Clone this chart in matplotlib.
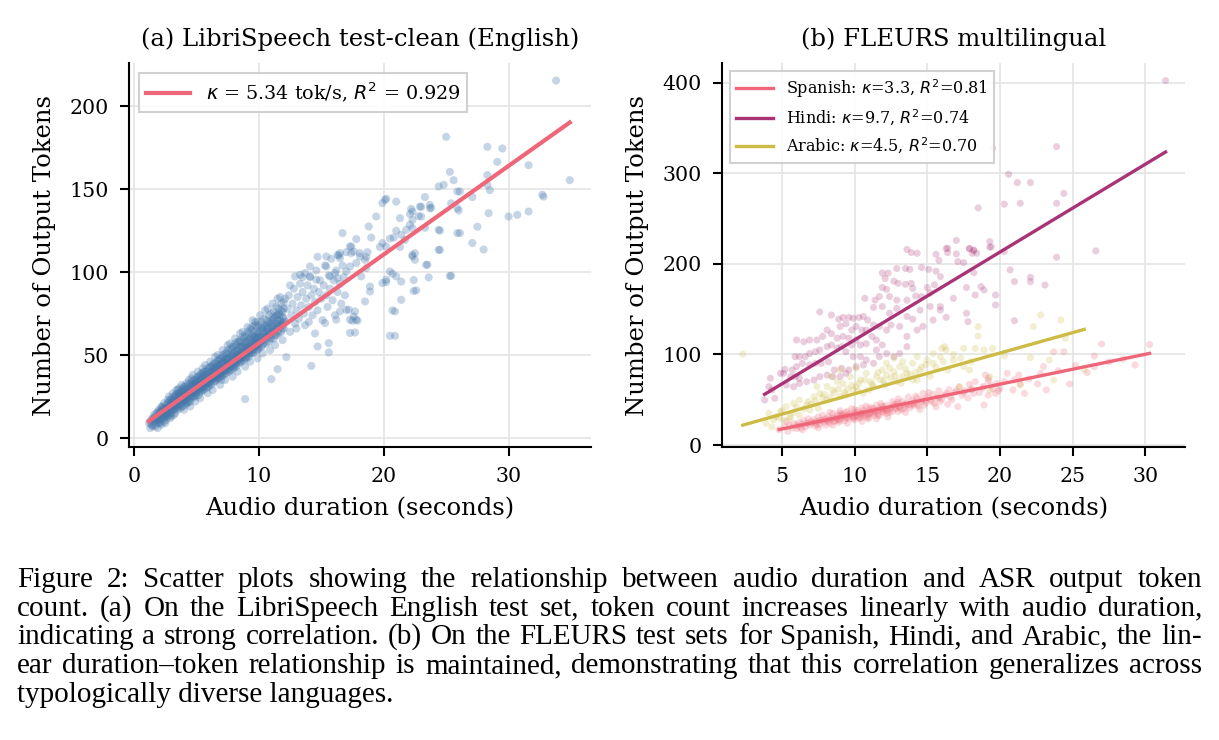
import numpy as np
import matplotlib.pyplot as plt

# ---- panel (a): LibriSpeech test-clean, (duration [s], output tokens)
libri_core = [
    (1.2, 9), (1.3, 6), (1.4, 11), (1.5, 8), (1.5, 12), (1.6, 10), (1.7, 7), (1.7, 13), (1.8, 9), (1.8, 15),
    (1.9, 11), (1.9, 6), (2.0, 13), (2.0, 9), (2.0, 17), (2.1, 11), (2.1, 16), (2.2, 8), (2.2, 14), (2.2, 19),
    (2.3, 12), (2.3, 17), (2.4, 10), (2.4, 15), (2.4, 21), (2.5, 13), (2.5, 18), (2.5, 9), (2.6, 15), (2.6, 20),
    (2.6, 11), (2.7, 17), (2.7, 23), (2.7, 13), (2.8, 19), (2.8, 15), (2.8, 25), (2.9, 17), (2.9, 21), (2.9, 12),
    (3.0, 19), (3.0, 24), (3.0, 15), (3.1, 21), (3.1, 17), (3.1, 27), (3.2, 19), (3.2, 23), (3.2, 14), (3.3, 22),
    (3.3, 26), (3.3, 18), (3.4, 20), (3.4, 29), (3.4, 24), (3.5, 17), (3.5, 22), (3.5, 27), (3.6, 20), (3.6, 25),
    (3.6, 30), (3.7, 23), (3.7, 18), (3.7, 27), (3.8, 21), (3.8, 26), (3.8, 32), (3.9, 24), (3.9, 19), (3.9, 28),
    (4.0, 22), (4.0, 26), (4.0, 31), (4.0, 17), (4.1, 24), (4.1, 29), (4.1, 20), (4.2, 27), (4.2, 33), (4.2, 23),
    (4.3, 25), (4.3, 30), (4.3, 21), (4.4, 28), (4.4, 35), (4.4, 24), (4.5, 26), (4.5, 31), (4.5, 19), (4.6, 29),
    (4.6, 34), (4.6, 24), (4.7, 27), (4.7, 32), (4.7, 38), (4.8, 30), (4.8, 25), (4.8, 35), (4.9, 28), (4.9, 33),
    (4.9, 22), (5.0, 31), (5.0, 36), (5.0, 27), (5.1, 29), (5.1, 34), (5.1, 40), (5.2, 32), (5.2, 26), (5.2, 37),
    (5.3, 30), (5.3, 35), (5.3, 24), (5.4, 33), (5.4, 39), (5.4, 28), (5.5, 31), (5.5, 36), (5.5, 42), (5.6, 34),
    (5.6, 29), (5.6, 38), (5.7, 32), (5.7, 37), (5.7, 44), (5.8, 35), (5.8, 30), (5.8, 40), (5.9, 33), (5.9, 38),
    (5.9, 27), (6.0, 36), (6.0, 42), (6.0, 31), (6.1, 35), (6.1, 40), (6.1, 46), (6.2, 38), (6.2, 32), (6.2, 43),
    (6.3, 36), (6.3, 41), (6.3, 29), (6.4, 39), (6.4, 45), (6.4, 34), (6.5, 37), (6.5, 42), (6.5, 49), (6.6, 40),
    (6.6, 35), (6.6, 45), (6.7, 38), (6.7, 43), (6.7, 50), (6.8, 41), (6.8, 36), (6.8, 47), (6.9, 39), (6.9, 44),
    (6.9, 32), (7.0, 42), (7.0, 48), (7.0, 37), (7.1, 40), (7.1, 46), (7.1, 53), (7.2, 43), (7.2, 38), (7.2, 49),
    (7.3, 41), (7.3, 47), (7.3, 35), (7.4, 45), (7.4, 51), (7.4, 39), (7.5, 43), (7.5, 48), (7.5, 56), (7.6, 45),
    (7.6, 40), (7.6, 51), (7.7, 43), (7.7, 49), (7.7, 57), (7.8, 46), (7.8, 41), (7.8, 53), (7.9, 44), (7.9, 50),
    (7.9, 37), (8.0, 47), (8.0, 55), (8.0, 42), (8.1, 46), (8.1, 52), (8.1, 60), (8.2, 49), (8.2, 43), (8.2, 56),
    (8.3, 47), (8.3, 53), (8.3, 40), (8.4, 51), (8.4, 58), (8.4, 45), (8.5, 49), (8.5, 55), (8.5, 63), (8.6, 51),
    (8.6, 46), (8.6, 58), (8.7, 49), (8.7, 55), (8.7, 64), (8.8, 52), (8.8, 47), (8.8, 60), (8.9, 50), (8.9, 57),
    (8.9, 43), (9.0, 53), (9.0, 61), (9.0, 48), (9.1, 52), (9.1, 58), (9.1, 67), (9.2, 55), (9.2, 49), (9.2, 63),
    (9.3, 53), (9.3, 60), (9.3, 46), (9.4, 57), (9.4, 65), (9.4, 51), (9.5, 55), (9.5, 62), (9.5, 71), (9.6, 57),
    (9.6, 52), (9.6, 64), (9.7, 55), (9.7, 61), (9.7, 70), (9.8, 58), (9.8, 53), (9.8, 67), (9.9, 56), (9.9, 63),
    (9.9, 48), (10.0, 60), (10.0, 68), (10.0, 54), (10.1, 58), (10.1, 65), (10.1, 74), (10.2, 61), (10.2, 55),
    (10.2, 70), (10.3, 59), (10.3, 66), (10.3, 51), (10.4, 63), (10.4, 72), (10.4, 57), (10.5, 61), (10.5, 68),
    (10.5, 77), (10.6, 63), (10.6, 57), (10.6, 71), (10.7, 61), (10.7, 67), (10.7, 78), (10.8, 64), (10.8, 58),
    (10.8, 74), (10.9, 62), (10.9, 69), (10.9, 53), (11.0, 66), (11.0, 75), (11.0, 60), (11.1, 64), (11.1, 71),
    (11.1, 81), (11.2, 67), (11.2, 60), (11.2, 76), (11.3, 65), (11.3, 73), (11.3, 56), (11.4, 69), (11.4, 79),
    (11.4, 62), (11.5, 67), (11.5, 74), (11.5, 84), (11.6, 69), (11.6, 63), (11.6, 78), (11.7, 67), (11.7, 74),
    (11.7, 85), (11.8, 70), (11.8, 64), (11.8, 81), (11.9, 68), (11.9, 76), (11.9, 59), (12.0, 72), (12.0, 82),
    (12.0, 66),
]
libri_core_extra = [
    (1.4, 8), (1.6, 14), (1.8, 11), (2.0, 15), (2.1, 9), (2.3, 14), (2.4, 12), (2.6, 18), (2.7, 15), (2.8, 22),
    (2.9, 14), (3.0, 21), (3.1, 23), (3.2, 17), (3.3, 20), (3.4, 26), (3.5, 19), (3.6, 27), (3.7, 21), (3.8, 29),
    (3.9, 22), (4.0, 28), (4.1, 22), (4.2, 30), (4.3, 27), (4.4, 22), (4.5, 33), (4.6, 31), (4.7, 25), (4.8, 33),
    (4.9, 26), (5.0, 33), (5.1, 31), (5.2, 35), (5.3, 28), (5.4, 36), (5.5, 29), (5.6, 40), (5.7, 34), (5.8, 38),
    (5.9, 31), (6.0, 39), (6.1, 33), (6.2, 40), (6.3, 38), (6.4, 42), (6.5, 34), (6.6, 43), (6.7, 36), (6.8, 44),
    (6.9, 37), (7.0, 45), (7.1, 43), (7.2, 46), (7.3, 39), (7.4, 48), (7.5, 45), (7.6, 48), (7.7, 41), (7.8, 50),
    (7.9, 47), (8.0, 51), (8.1, 44), (8.2, 53), (8.3, 50), (8.4, 54), (8.5, 47), (8.6, 55), (8.7, 52), (8.8, 56),
    (8.9, 48), (9.0, 58), (9.1, 54), (9.2, 59), (9.3, 51), (9.4, 60), (9.5, 53), (9.6, 61), (9.7, 58), (9.8, 62),
    (9.9, 53), (10.0, 64), (10.1, 61), (10.2, 66), (10.3, 56), (10.4, 67), (10.5, 59), (10.6, 68), (10.7, 64),
    (10.8, 70), (10.9, 60), (11.0, 71), (11.1, 67), (11.2, 72), (11.3, 62), (11.4, 74), (11.5, 64), (11.6, 75),
    (11.7, 71), (11.8, 77), (11.9, 66), (12.0, 78),
    (1.3, 10), (1.5, 7), (1.7, 12), (1.9, 16), (2.0, 10), (2.2, 13), (2.3, 19), (2.5, 16), (2.6, 13), (2.8, 17),
    (2.9, 23), (3.0, 13), (3.1, 19), (3.2, 25), (3.3, 15), (3.4, 18), (3.5, 29), (3.6, 22), (3.7, 25), (3.8, 19),
    (3.9, 30), (4.0, 25), (4.1, 31), (4.2, 21), (4.3, 32), (4.4, 26), (4.5, 22), (4.6, 36), (4.7, 29), (4.8, 27),
    (4.9, 35), (5.0, 25), (5.1, 37), (5.2, 29), (5.3, 38), (5.4, 30), (5.5, 39), (5.6, 31), (5.7, 40), (5.8, 33),
    (5.9, 42), (6.0, 34), (6.1, 43), (6.2, 35), (6.3, 44), (6.4, 36), (6.5, 45), (6.6, 37), (6.7, 47), (6.8, 38),
    (6.9, 48), (7.0, 35), (7.1, 50), (7.2, 40), (7.3, 51), (7.4, 43), (7.5, 53), (7.6, 42), (7.7, 54), (7.8, 43),
    (7.9, 55), (8.0, 45), (8.1, 57), (8.2, 45), (8.3, 58), (8.4, 49), (8.5, 59), (8.6, 48), (8.7, 61), (8.8, 50),
    (8.9, 62), (9.0, 55), (9.1, 64), (9.2, 51), (9.3, 66), (9.4, 55), (9.5, 67), (9.6, 54), (9.7, 68), (9.8, 60),
    (9.9, 70), (10.0, 57),
]
libri_near_fit = [
    (1.6, 12), (1.9, 13), (2.1, 15), (2.3, 16), (2.4, 18), (2.6, 17), (2.8, 18), (2.9, 20), (3.1, 20), (3.2, 21),
    (3.4, 22), (3.5, 24), (3.6, 23), (3.8, 24), (3.9, 25), (4.1, 26), (4.2, 25), (4.4, 27), (4.5, 28), (4.6, 27),
    (4.8, 29), (4.9, 31), (5.0, 30), (5.2, 31), (5.3, 33), (5.4, 32), (5.6, 33), (5.7, 35), (5.8, 34), (6.0, 35),
    (6.1, 37), (6.2, 36), (6.4, 37), (6.5, 39), (6.6, 38), (6.8, 39), (6.9, 41), (7.0, 40), (7.2, 41), (7.3, 43),
    (7.4, 42), (7.6, 44), (7.7, 45), (7.8, 44), (8.0, 46), (8.1, 48), (8.2, 47), (8.4, 48), (8.5, 50), (8.6, 49),
    (8.8, 51), (8.9, 52), (9.0, 51), (9.2, 53), (9.3, 55), (9.4, 54), (9.6, 56), (9.7, 57), (9.8, 56), (10.0, 58),
    (10.2, 59), (10.4, 61), (10.6, 62), (10.8, 63), (11.0, 64), (11.2, 65), (11.4, 66), (11.6, 68), (11.8, 69),
    (12.0, 70), (2.0, 11), (2.5, 14), (3.0, 17), (3.5, 20), (4.0, 23), (4.5, 25), (5.0, 28), (5.5, 31), (6.0, 33),
    (6.5, 36), (7.0, 38), (7.5, 41), (8.0, 43), (8.5, 46), (9.0, 49), (9.5, 51), (10.0, 55), (2.2, 18), (2.7, 21),
    (3.3, 25), (3.7, 27), (4.3, 29), (4.7, 32), (5.1, 34), (5.5, 36), (6.3, 40), (6.7, 42), (7.1, 45), (7.5, 47),
    (7.9, 49), (8.3, 51), (8.7, 54), (9.1, 56), (9.5, 59), (9.9, 61), (10.3, 64), (10.7, 66), (11.1, 69),
    (11.5, 71), (11.9, 73),
]
libri_mid = [
    (12.2, 70), (12.3, 78), (12.4, 86), (12.5, 64), (12.6, 74), (12.7, 81), (12.8, 90), (12.9, 69), (13.0, 77),
    (13.1, 85), (13.2, 72), (13.3, 93), (13.4, 80), (13.5, 88), (13.6, 75), (13.7, 68), (13.8, 84), (13.9, 92),
    (14.0, 79), (14.1, 97), (14.2, 86), (14.3, 74), (14.4, 90), (14.5, 82), (14.6, 101), (14.7, 77), (14.8, 88),
    (14.9, 95), (15.0, 84), (15.1, 71), (15.2, 92), (15.3, 104), (15.4, 86), (15.5, 79), (15.6, 98), (15.7, 90),
    (15.8, 108), (15.9, 83), (16.0, 95), (16.1, 74), (16.2, 101), (16.3, 88), (16.4, 110), (16.5, 93), (16.6, 81),
    (16.7, 104), (16.8, 97), (16.9, 86), (17.0, 112), (12.1, 84), (12.5, 92), (13.0, 66), (13.5, 97), (14.0, 70),
    (14.5, 63),
]
libri_tail = [
    (25.0, 181.5), (33.8, 215.4), (28.3, 175.5), (29.5, 174.5), (29.1, 166.4), (31.6, 164.4), (25.3, 160.4),
    (25.6, 155.4), (28.3, 158.4), (34.9, 155.4), (24.4, 151.6), (24.8, 152.6), (26.1, 148.6), (28.3, 152.6),
    (28.5, 149.4), (27.1, 145.2), (32.7, 146.6), (32.8, 145.5), (23.3, 145.2), (23.7, 140.5), (23.8, 138.7),
    (25.4, 141.4), (25.9, 138.5), (26.0, 137.1), (23.0, 139.3), (22.2, 138.1), (22.3, 136.5), (22.1, 135.0),
    (22.8, 133.7), (28.4, 135.5), (30.0, 133.5), (30.7, 134.5), (31.6, 136.5), (21.0, 142.5), (20.2, 144.2),
    (21.3, 132.5), (22.1, 128.5), (22.3, 126.5), (23.3, 126.7), (24.4, 125.5), (24.5, 125.0), (26.1, 123.5),
    (27.5, 127.3), (24.4, 113.4), (27.1, 117.5), (28.0, 113.6), (21.0, 124.9), (20.8, 120.8), (21.7, 119.4),
    (21.3, 115.1), (19.9, 117.5), (20.2, 115.4), (20.5, 120.2), (22.5, 111.4), (22.3, 109.4), (23.5, 104.4),
    (23.6, 96.8), (25.3, 97.6), (22.4, 95.2), (22.4, 88.6), (21.4, 94.3), (21.4, 83.3), (20.2, 94.0),
    (19.9, 141.6), (20.1, 143.5), (19.4, 133.5), (18.8, 127.5), (16.7, 123.5), (17.8, 119.9), (19.0, 120.8),
    (17.4, 115.4), (17.6, 112.4), (14.7, 109.2), (15.4, 109.4), (16.3, 110.4), (16.5, 108.4), (14.1, 103.4),
    (15.4, 103.4), (18.1, 111.4), (18.6, 109.0), (18.7, 112.0), (19.7, 115.1), (21.4, 122.5), (21.8, 125.5),
    (22.3, 131.5), (22.9, 139.5), (23.0, 133.5), (23.7, 138.5), (22.3, 110.4), (22.5, 107.4), (23.4, 104.4),
    (20.5, 100.4), (20.7, 99.0), (20.2, 95.4), (21.0, 97.4), (19.9, 93.4), (20.7, 76.9), (20.5, 61.6),
    (24.5, 113.4), (25.4, 97.8), (25.9, 148.6), (25.9, 123.5), (18.9, 88.3), (18.9, 91.3), (18.2, 97.4),
    (18.5, 82.3), (17.7, 76.3), (17.0, 77.3), (17.3, 71.3), (17.3, 63.3), (17.8, 71.3), (16.2, 71.3),
    (16.5, 76.3), (15.3, 69.3), (13.3, 98.4), (13.7, 99.4), (12.9, 97.4), (14.1, 97.4), (14.6, 95.4),
    (15.7, 97.4), (16.1, 99.4), (16.3, 96.4), (17.0, 100.4), (17.3, 103.4), (17.8, 105.4), (18.6, 102.4),
    (16.5, 111.4), (17.3, 115.4), (17.4, 111.4), (18.1, 109.4), (18.5, 107.4), (15.6, 51.6), (14.7, 55.2),
    (14.2, 43.5), (11.0, 35.5), (8.9, 23.5), (11.5, 41.5), (12.2, 48.8), (20.9, 61.6), (20.9, 76.3),
    (17.7, 63.6), (17.5, 70.7), (17.9, 70.7), (17.2, 77.3), (17.6, 73.3), (15.6, 57.2), (22.6, 89.0),
]
libri_kappa, libri_icpt, libri_r2 = 5.34, 3.8, 0.929

# ---- panel (b): FLEURS, one list per language
fleurs_langs = ['Spanish', 'Hindi', 'Arabic']
spanish_pts = [
    (4.8, 17), (5.2, 20), (5.4, 15), (5.5, 22), (5.7, 19), (5.8, 24), (6.0, 18), (6.0, 22), (5.3, 26),
    (6.1, 21), (6.2, 25), (6.3, 19), (6.4, 23), (6.5, 27), (6.6, 20), (6.7, 24), (6.8, 29), (6.9, 22), (7.0, 26),
    (6.4, 17), (7.1, 24), (7.2, 28), (7.3, 21), (7.4, 26), (7.5, 31), (7.6, 23), (7.7, 27), (7.8, 33), (7.9, 25),
    (8.0, 29), (7.5, 19), (8.0, 22), (8.1, 27), (8.2, 31), (8.3, 24), (8.4, 29), (8.5, 35), (8.6, 26), (8.7, 30),
    (8.8, 33), (8.9, 28), (9.0, 32), (8.5, 22), (9.0, 38), (8.3, 36), (9.1, 30), (9.2, 34), (9.3, 27), (9.4, 32),
    (9.5, 37), (9.6, 29), (9.7, 34), (9.8, 40), (9.9, 31), (10.0, 35), (9.5, 24), (10.0, 28), (10.1, 33),
    (10.2, 38), (10.3, 30), (10.4, 35), (10.5, 41), (10.6, 32), (10.7, 36), (10.8, 43), (10.9, 34), (11.0, 38),
    (10.5, 26), (11.0, 30), (11.1, 36), (11.2, 41), (11.3, 33), (11.4, 38), (11.5, 44), (11.6, 35), (11.7, 40),
    (11.8, 46), (11.9, 37), (12.0, 42), (11.5, 29), (12.1, 39), (12.2, 44), (12.4, 36), (12.5, 42), (12.6, 48),
    (12.8, 40), (12.9, 45), (13.0, 51), (12.3, 31), (13.0, 37), (13.1, 43), (13.3, 48), (13.4, 40), (13.6, 46),
    (13.7, 53), (13.9, 44), (14.0, 49), (13.5, 36), (14.1, 47), (14.3, 52), (14.4, 43), (14.6, 50), (14.7, 57),
    (14.9, 47), (15.0, 53), (14.5, 39), (15.2, 50), (15.4, 56), (15.5, 46), (15.7, 53), (15.8, 60), (16.0, 51),
    (15.6, 42), (16.2, 55), (16.5, 61), (16.7, 50), (16.9, 58), (17.2, 64), (17.4, 55), (17.6, 60), (17.9, 67),
    (17.8, 52), (16.4, 45), (18.1, 62), (18.3, 70), (18.6, 58), (18.9, 65), (19.2, 71), (19.5, 62), (19.8, 68),
    (19.2, 55), (20.5, 79.2), (21.3, 77.3), (21.7, 57), (20.9, 60.8), (22.6, 67.4), (23.2, 60.8), (23.0, 86.6),
    (23.7, 103), (24.4, 103), (24.8, 67.4), (26.5, 98.3), (27.0, 111.6), (29.3, 88.4), (30.3, 111),
    (26.5, 86.6), (19.0, 77.3), (19.2, 73.7), (18.0, 60.8), (18.9, 44.2), (17.1, 42.4), (19.7, 57),
    (20.0, 62.6), (21.4, 67.4), (8.2, 26), (8.6, 30), (9.0, 27), (9.3, 31), (9.6, 33), (9.9, 29), (10.2, 32),
    (10.5, 35), (10.8, 31), (11.1, 34), (11.4, 37), (11.7, 33), (12.0, 36), (12.3, 39), (12.6, 37), (12.9, 41),
    (13.2, 39), (13.5, 43), (13.8, 41), (14.1, 44), (10.0, 39), (10.6, 38), (11.3, 40), (11.9, 43), (12.7, 45),
    (9.4, 36), (8.8, 29), (10.4, 30), (11.6, 32), (12.2, 35), (6.8, 24), (7.2, 25), (7.6, 27), (7.9, 28),
    (8.3, 28), (8.7, 27), (9.1, 33), (9.4, 30), (9.7, 31), (10.1, 36), (10.4, 33), (10.7, 34), (11.0, 35),
    (11.3, 36), (11.6, 38), (11.9, 40), (12.2, 38), (12.5, 40), (12.8, 43), (13.1, 41), (13.4, 45), (13.7, 44),
    (14.0, 46), (14.3, 45), (14.6, 48), (14.9, 50), (15.3, 48), (15.8, 52), (9.0, 35), (10.0, 31), (11.0, 41),
    (12.0, 39), (13.0, 47), (7.4, 23), (8.9, 25), (10.9, 29), (14.2, 54), (14.8, 44), (15.1, 58), (15.9, 48),
    (16.3, 57), (16.6, 53), (17.0, 60), (17.5, 58), (18.2, 57), (18.8, 63), (19.4, 66), (19.9, 60), (20.3, 70),
    (21.0, 72), (22.0, 73), (22.8, 79), (24.0, 82), (25.2, 88), (26.0, 80), (27.5, 92), (28.5, 95),
]
hindi_pts = [
    (13.6, 216), (13.9, 212.5), (14.3, 211.8), (13.5, 195), (13.8, 194), (12.9, 195), (12.3, 190), (11.9, 190),
    (12.1, 184), (12.7, 181), (11.9, 174), (12.2, 172), (13.0, 178.6), (13.5, 177.5), (13.9, 178.6), (14.0, 173),
    (14.6, 196), (15.1, 194), (15.6, 192), (15.6, 210.7), (15.8, 204), (16.4, 212.5), (15.9, 186), (15.5, 177),
    (15.0, 174), (15.2, 168), (14.6, 164), (14.2, 164.6), (13.6, 160), (12.9, 160), (12.4, 164), (11.7, 164),
    (11.4, 160), (10.7, 162), (11.3, 152), (11.9, 153), (12.4, 145.5), (12.9, 151), (13.6, 142), (14.0, 139),
    (14.5, 149), (15.2, 153), (15.9, 149), (15.4, 138), (14.7, 131), (14.3, 127), (13.6, 120), (13.1, 131),
    (12.5, 132.6), (12.2, 127), (11.7, 131), (11.3, 132.6), (10.9, 138), (10.6, 142), (10.3, 141), (9.9, 140),
    (9.6, 141), (9.2, 141), (8.9, 139), (9.0, 131), (9.4, 134), (9.8, 127), (10.1, 131), (10.5, 127), (10.8, 127),
    (11.2, 120), (11.5, 116), (11.9, 110.5), (11.5, 105), (10.8, 112), (10.4, 110.5), (10.1, 116), (9.8, 110.5),
    (9.6, 118), (9.2, 120), (8.8, 118), (8.4, 123), (8.1, 127), (7.6, 147), (8.4, 143.6), (7.8, 120), (7.4, 116),
    (6.9, 116), (6.5, 114), (6.0, 116), (6.2, 97.6), (5.9, 97.6), (6.6, 97.6), (6.9, 101), (7.3, 103), (7.6, 105),
    (8.1, 108.7), (8.4, 110.5), (8.8, 107), (9.1, 108.7), (9.4, 103), (9.9, 97.6), (10.4, 97.6), (10.8, 94),
    (10.6, 88.4), (10.1, 86.6), (11.3, 90.2), (11.7, 97.6), (12.2, 101), (12.7, 97.6), (13.1, 101), (13.6, 108.7),
    (9.6, 82.9), (9.1, 84.7), (8.6, 82.9), (8.2, 92), (7.7, 90.2), (7.3, 90.2), (6.9, 88.4), (6.4, 90.2),
    (6.0, 86.6), (5.7, 82.9), (5.2, 83.6), (5.1, 79.2), (5.6, 75.5), (5.9, 75.5), (6.2, 73.7), (6.7, 70),
    (7.2, 71.8), (7.6, 75.5), (8.1, 77.3), (8.5, 75.5), (9.0, 75.5), (9.4, 79.2), (6.2, 68), (5.8, 64.5),
    (5.3, 66.3), (4.9, 79.2), (4.2, 73.7), (4.1, 64.5), (3.8, 49.7), (4.5, 51.6), (4.3, 60.8),
    (17.0, 226), (16.3, 217), (17.0, 211), (17.1, 202.6), (17.9, 217), (18.2, 214.7), (18.4, 211.8),
    (18.1, 211.8), (19.3, 224.7), (19.3, 218.4), (20.3, 213.6), (17.5, 201.5), (18.2, 190.4), (20.7, 193.4),
    (21.0, 180.5), (22.1, 185.3), (22.1, 180.5), (23.1, 176.8), (23.9, 207.4), (26.6, 214.4), (18.7, 175),
    (18.9, 171.3), (16.8, 162), (18.3, 165.7), (17.7, 174), (19.7, 165.7), (19.7, 154.7), (15.9, 152.9),
    (17.7, 145.5), (17.8, 136.3), (16.3, 141), (21.0, 137.4), (31.4, 402.6), (23.9, 329.6), (19.5, 327.8),
    (20.6, 299), (21.2, 289.9), (22.1, 289.9), (24.4, 278), (23.9, 267), (21.4, 267), (20.3, 266), (18.5, 262),
    (16.4, 217.3), (19.4, 219), (17.9, 217), (18.2, 215.5),
]
arabic_pts = [
    (2.3, 100.5), (4.1, 35), (4.3, 20), (4.9, 36.8), (5.3, 42.4), (5.8, 46), (6.2, 49.7), (6.7, 44.2), (7.2, 53.4),
    (7.6, 57), (7.4, 64.5), (8.1, 64.5), (8.5, 60.8), (8.8, 70), (9.2, 68), (9.7, 75.5), (10.1, 64.5), (10.4, 71.8),
    (10.8, 79.2), (11.1, 70), (11.5, 75.5), (11.9, 82.9), (12.2, 77.3), (12.7, 81), (13.1, 86.6), (13.6, 79.2),
    (14.0, 90.2), (14.5, 82.9), (15.0, 94), (15.4, 90.2), (15.9, 97.6), (16.3, 105), (16.4, 82.9), (9.0, 53.4),
    (8.1, 49.7), (9.4, 55.2), (9.9, 60.8), (10.6, 57), (11.3, 64.5), (12.1, 66.3), (12.9, 70), (13.3, 75.5),
    (14.0, 71.8), (6.2, 33), (6.9, 38.7), (7.5, 40.5), (5.6, 31.3), (5.1, 27.6), (4.6, 31.3), (3.9, 24),
    (9.0, 82.9), (8.4, 75.5), (10.1, 84.7), (12.2, 90.2), (12.7, 95.8), (13.3, 92), (14.3, 97.6), (15.4, 101),
    (16.2, 108.7), (14.3, 71.8), (16.0, 106.8), (16.1, 92), (17.5, 106.8), (18.3, 106.8), (18.9, 105),
    (19.5, 106.8), (18.5, 130.8), (18.5, 120.4), (17.5, 86.6), (16.8, 94), (17.9, 82.9), (20.3, 98.3),
    (22.1, 96.5), (22.3, 130.8), (22.8, 143.6), (24.2, 138), (24.5, 117.9), (23.4, 94), (25.8, 83),
    (19.3, 60.8), (21.4, 66.3), (23.7, 71.8), (17.2, 64.5), (19.3, 75.5), (7.0, 45), (7.8, 52), (8.6, 58),
    (9.5, 62), (10.3, 68), (11.0, 61), (11.8, 72), (12.5, 74), (13.2, 68), (13.8, 78), (14.6, 86), (15.2, 76),
    (6.5, 40), (5.8, 36), (5.0, 38), (4.4, 28), (6.0, 42), (6.8, 48), (7.3, 49), (7.9, 56), (8.3, 53), (8.9, 62),
    (9.3, 58), (9.8, 66), (10.2, 60), (10.7, 72), (11.2, 67), (11.6, 80), (12.0, 71), (12.4, 85), (12.8, 76),
    (13.5, 84), (14.2, 80), (14.9, 89), (15.6, 86), (16.8, 100), (17.3, 96), (18.0, 92), (5.5, 30), (4.8, 30),
]
fleurs_kappa = [3.3, 9.7, 4.5]
fleurs_icpt = [1.2, 19.1, 11.6]
fleurs_r2 = [0.81, 0.74, 0.70]
fleurs_colors = ['#ee6677', '#aa3377', '#ccbb44']

caption = [
    "Figure 2:  Scatter plots showing the relationship between audio duration and ASR output token",
    "count. (a) On the LibriSpeech English test set, token count increases linearly with audio duration,",
    "indicating a strong correlation. (b) On the FLEURS test sets for Spanish, Hindi, and Arabic, the lin-",
    "ear duration\u2013token relationship is maintained, demonstrating that this correlation generalizes across",
    "typologically diverse languages.",
]

plt.rcParams['font.family'] = 'DejaVu Serif'
plt.rcParams['axes.linewidth'] = 1.5

fig = plt.figure(figsize=(12.19, 7.40), dpi=100)
W, H = 1219, 740
ax1 = fig.add_axes([129 / W, 1 - 447 / H, 462 / W, 384 / H])
ax2 = fig.add_axes([722 / W, 1 - 447 / H, 463 / W, 384 / H])


def style(ax):
    for s in ['top', 'right']:
        ax.spines[s].set_visible(False)
    ax.grid(True, color='#e4e4e4', linewidth=1.2)
    ax.set_axisbelow(True)
    ax.tick_params(labelsize=14.8, length=6.5, width=1.5, pad=8)
    ax.set_xlabel('Audio duration (seconds)', fontsize=17.5, labelpad=8)
    ax.set_ylabel('Number of Output Tokens', fontsize=17.5, labelpad=10)


# (a)
pts = np.array(libri_core + libri_core_extra + libri_near_fit + libri_mid + libri_tail)
ax1.scatter(pts[:, 0], pts[:, 1], s=34, color='#4477aa', alpha=0.3, edgecolors='none')
xs = np.array([pts[:, 0].min(), pts[:, 0].max()])
ax1.plot(xs, libri_icpt + libri_kappa * xs, color='#ee6677', lw=3,
         label=rf'$\kappa$ = {libri_kappa:.2f} tok/s, $R^2$ = {libri_r2:.3f}')
style(ax1)
ax1.set_xlim(-0.4, 36.6)
ax1.set_ylim(-5.4, 226)
ax1.set_xticks([0, 10, 20, 30])
ax1.set_yticks([0, 50, 100, 150, 200])
ax1.set_title('(a) LibriSpeech test-clean (English)', fontsize=17.5, pad=12)
leg = ax1.legend(loc='upper left', fontsize=13.8, handlelength=2.3, fancybox=False,
                 edgecolor='#cccccc', framealpha=0.9)
leg.get_frame().set_linewidth(1.5)

# (b)
for lang, p, k, b, r2, c in zip(fleurs_langs, [spanish_pts, hindi_pts, arabic_pts],
                                fleurs_kappa, fleurs_icpt, fleurs_r2, fleurs_colors):
    p = np.array(p)
    ax2.scatter(p[:, 0], p[:, 1], s=26, color=c, alpha=0.24, edgecolors='none')
    xs = np.array([p[:, 0].min(), p[:, 0].max()])
    ax2.plot(xs, b + k * xs, color=c, lw=2.4, label=rf'{lang}: $\kappa$={k}, $R^2$={r2:.2f}')
style(ax2)
ax2.set_xlim(0.87, 32.74)
ax2.set_ylim(-2.2, 422)
ax2.set_xticks([5, 10, 15, 20, 25, 30])
ax2.set_yticks([0, 100, 200, 300, 400])
ax2.set_title('(b) FLEURS multilingual', fontsize=17.5, pad=12)
leg = ax2.legend(loc='upper left', fontsize=11.5, handlelength=2.3, fancybox=False,
                 edgecolor='#cccccc', framealpha=0.9)
leg.get_frame().set_linewidth(1.5)

# caption, justified line by line
capfont = dict(family='Liberation Serif', fontsize=21)
cap_left, cap_right = 17, 1202
cap_base = [587, 615.5, 644, 673, 702]
fig.canvas.draw()
rend = fig.canvas.get_renderer()
for i, line in enumerate(caption):
    yb = 1 - cap_base[i] / H
    if i == len(caption) - 1:
        fig.text(cap_left / W, yb, line, va='baseline', **capfont)
        continue
    words = line.split()
    texts = [fig.text(0, yb, w, va='baseline', **capfont) for w in words]
    widths = [t.get_window_extent(rend).width for t in texts]
    gap = (cap_right - cap_left - sum(widths)) / (len(words) - 1)
    x = cap_left
    for t, w in zip(texts, widths):
        t.set_x(x / W)
        x += w + gap

fig.savefig('out.png', dpi=100)
